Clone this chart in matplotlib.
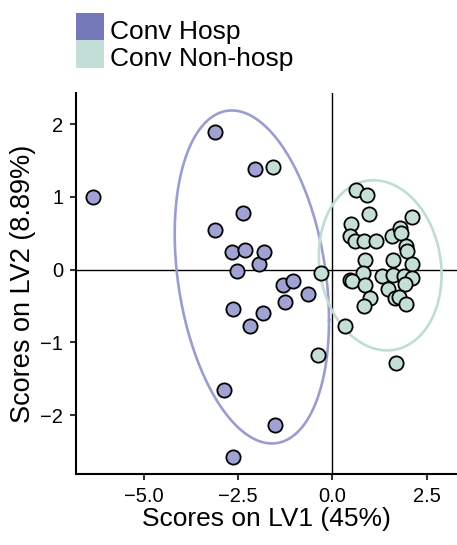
import numpy as np
import matplotlib
matplotlib.use('Agg')
import matplotlib.pyplot as plt
from matplotlib.patches import Rectangle

plt.rcParams['font.family'] = ['Liberation Sans', 'DejaVu Sans']

# PLS-DA scores, convalescent hospitalised
hosp_lv1 = [-6.36, -3.12, -2.05, -2.38, -3.12, -2.67, -2.32, -2.54, -1.96, -1.83,
            -2.63, -2.19, -1.85, -2.88, -2.63, -1.52, -1.30, -1.05, -0.66, -1.26]
hosp_lv2 = [1.00, 1.89, 1.38, 0.78, 0.54, 0.25, 0.27, -0.02, 0.08, 0.24,
            -0.54, -0.78, -0.60, -1.66, -2.58, -2.13, -0.21, -0.16, -0.34, -0.44]

# PLS-DA scores, convalescent non-hospitalised
nonhosp_lv1 = [-1.57, -0.31, 0.34, -0.37, 1.68,
               0.63, 0.91, 0.98, 2.11, 0.50, 0.47, 0.60, 0.85, 1.16, 1.58,
               1.80, 1.82, 1.96, 1.99, 0.87, 1.60, 2.11, 0.82, 0.47, 0.52,
               0.87, 1.31, 1.60, 1.89, 2.11, 1.93, 1.49, 1.00, 0.85, 1.67,
               1.78, 1.96]
nonhosp_lv2 = [1.41, -0.05, -0.77, -1.18, -1.29,
               1.10, 1.03, 0.77, 0.73, 0.63, 0.46, 0.39, 0.40, 0.40, 0.47,
               0.57, 0.51, 0.32, 0.26, 0.14, 0.14, 0.08, -0.05, -0.14, -0.16,
               -0.21, -0.08, -0.07, -0.08, -0.11, -0.20, -0.27, -0.39, -0.50, -0.39,
               -0.38, -0.47]

# group ellipses: centre, spread along each LV, correlation
hosp_ell = dict(cx=-2.14, cy=-0.10, sx=2.05, sy=2.29, rho=-0.26)
nonhosp_ell = dict(cx=1.27, cy=0.06, sx=1.63, sy=1.17, rho=-0.11)

labels = ['Conv Hosp', 'Conv Non-hosp']
x_ticks = [-5.0, -2.5, 0.0, 2.5]
y_ticks = [-2, -1, 0, 1, 2]

purple_pt, purple_line, purple_key = '#9FA2D2', '#9A9DD0', '#7579B9'
green_pt, green_line, green_key = '#C5DFD7', '#C0DDD4', '#C3DFD8'


def ellipse_xy(cx, cy, sx, sy, rho, n=300):
    t = np.linspace(0, 2 * np.pi, n)
    x = cx + sx * np.cos(t)
    y = cy + sy * (rho * np.cos(t) + np.sqrt(1 - rho ** 2) * np.sin(t))
    return x, y


fig = plt.figure(figsize=(4.57, 5.45), dpi=100)
ax = fig.add_axes([75.7 / 457, 1 - 474 / 545, 1 - 75.7 / 457, (474 - 93) / 545])

ax.axhline(0, color='black', lw=1.0, zorder=1)
ax.axvline(0, color='black', lw=1.0, zorder=1)

for ell, col in [(hosp_ell, purple_line), (nonhosp_ell, green_line)]:
    ex, ey = ellipse_xy(**ell)
    ax.plot(ex, ey, color=col, lw=1.9, zorder=2)

ax.scatter(hosp_lv1, hosp_lv2, s=105, c=purple_pt, edgecolors='black',
           linewidths=1.3, zorder=3)
ax.scatter(nonhosp_lv1, nonhosp_lv2, s=105, c=green_pt, edgecolors='black',
           linewidths=1.3, zorder=3)

ax.set_xlim(-6.82, 3.31)
ax.set_ylim(-2.81, 2.43)
ax.set_xticks(x_ticks)
ax.set_xticklabels([f'{v:.1f}'.replace('-', '\u2212') for v in x_ticks])
ax.set_yticks(y_ticks)
ax.set_yticklabels([str(v).replace('-', '\u2212') for v in y_ticks])

for side in ['top', 'right']:
    ax.spines[side].set_visible(False)
for side in ['left', 'bottom']:
    ax.spines[side].set_linewidth(1.5)
ax.tick_params(direction='out', length=4, width=1.5, color='#333333',
               labelsize=14.5, pad=5)

ax.set_xlabel('Scores on LV1 (45%)', fontsize=19, labelpad=1)
ax.set_ylabel('Scores on LV2 (8.89%)', fontsize=19.5, labelpad=3)

# legend keys drawn in figure pixels
for i, (lab, col) in enumerate(zip(labels, [purple_key, green_key])):
    top = 13 + i * 27.5
    fig.add_artist(Rectangle((76 / 457, 1 - (top + 27.5) / 545), 28 / 457, 27.5 / 545,
                             transform=fig.transFigure, color=col, lw=0))
    fig.text(110 / 457, 1 - (top + 25.5) / 545, lab, fontsize=19,
             va='baseline', ha='left')

plt.savefig('out.png', dpi=100)
